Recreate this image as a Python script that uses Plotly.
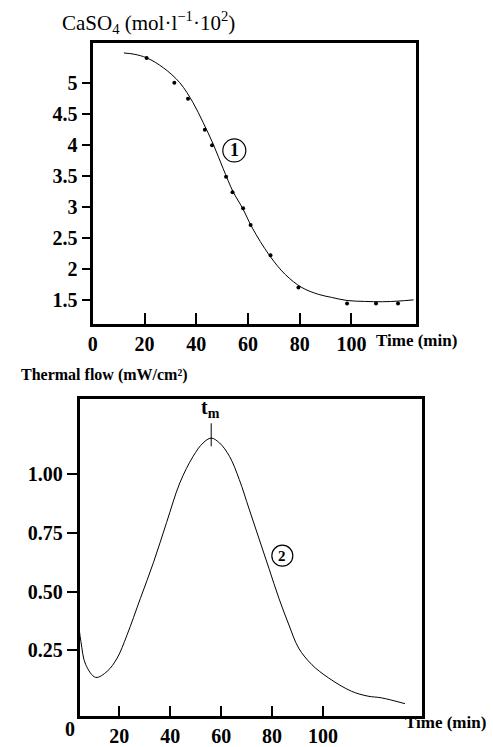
import plotly.graph_objects as go

# ---------------- data ----------------
# Curve 1: CaSO4 concentration (fitted line)
caso4_curve_t = [12.0, 16.0, 20.9, 27.3, 33.6, 38.7, 42.6, 46.5, 50.4, 54.2, 57.9, 61.7,
                 68.1, 74.4, 80.8, 87.2, 92.3, 98.3, 105.0, 112.0, 118.0, 124.0]
caso4_curve_v = [5.49, 5.47, 5.41, 5.25, 5.01, 4.69, 4.37, 4.02, 3.62, 3.25, 2.98, 2.66,
                 2.23, 1.91, 1.70, 1.59, 1.54, 1.49, 1.475, 1.47, 1.48, 1.50]
# Curve 1: measured points
caso4_pts_t = [20.8, 31.5, 36.8, 43.3, 46.1, 51.5, 54.0, 58.1, 61.0, 68.7, 79.5, 98.3, 109.5, 118.0]
caso4_pts_v = [5.41, 5.01, 4.75, 4.25, 4.00, 3.49, 3.24, 2.98, 2.71, 2.22, 1.70, 1.44, 1.44, 1.44]

# Curve 2: thermal flow
flow_t = [3.7, 5.0, 6.9, 10.8, 15.3, 19.2, 23.1, 28.3, 33.5, 38.6, 43.8, 49.0, 52.9, 56.1,
          59.4, 63.3, 67.1, 71.0, 74.9, 78.8, 82.7, 86.6, 90.4, 95.6, 102.1, 111.1, 117.6,
          122.8, 132.1]
flow_v = [0.40, 0.288, 0.189, 0.135, 0.161, 0.217, 0.316, 0.471, 0.626, 0.795, 0.964, 1.077,
          1.134, 1.155, 1.134, 1.077, 0.979, 0.852, 0.725, 0.598, 0.471, 0.358, 0.26, 0.189,
          0.133, 0.076, 0.055, 0.048, 0.023]

top_x_ticks = [0, 20, 40, 60, 80, 100]
top_y_ticks = [1.5, 2, 2.5, 3, 3.5, 4, 4.5, 5]
top_y_labels = ["1.5", "2", "2.5", "3", "3.5", "4", "4.5", "5"]
bot_x_ticks = [20, 40, 60, 80, 100]
bot_y_ticks = [0.25, 0.50, 0.75, 1.00]
bot_y_labels = ["0.25", "0.50", "0.75", "1.00"]

W, H = 493, 747
FONT = "Liberation Serif, Times New Roman, serif"

fig = go.Figure()

fig.add_trace(go.Scatter(x=caso4_curve_t, y=caso4_curve_v, mode="lines",
                         line=dict(color="black", width=1, shape="spline"),
                         xaxis="x", yaxis="y", showlegend=False))
fig.add_trace(go.Scatter(x=caso4_pts_t, y=caso4_pts_v, mode="markers",
                         marker=dict(color="black", size=4),
                         xaxis="x", yaxis="y", showlegend=False))
fig.add_trace(go.Scatter(x=flow_t, y=flow_v, mode="lines",
                         line=dict(color="black", width=1, shape="spline"),
                         xaxis="x2", yaxis="y2", showlegend=False))

tickfont = dict(family=FONT, size=20, color="black", weight="bold")
common = dict(showline=True, linecolor="black", linewidth=3, mirror=True,
              showgrid=False, zeroline=False, tickcolor="black", tickwidth=1.5,
              tickfont=tickfont)

fig.update_layout(
    width=W, height=H,
    margin=dict(l=0, r=0, t=0, b=0),
    paper_bgcolor="white", plot_bgcolor="white",
    xaxis=dict(domain=[88.5 / W, 415.5 / W], range=[-0.1, 125.07],
               tickvals=top_x_ticks, ticktext=[str(v) for v in top_x_ticks],
               ticks="inside", ticklen=11, anchor="y", **common),
    yaxis=dict(domain=[1 - 326.5 / H, 1 - 43.5 / H], range=[1.112, 5.649],
               tickvals=top_y_ticks, ticktext=top_y_labels,
               ticks="outside", ticklen=8, anchor="x", **common),
    xaxis2=dict(domain=[75.5 / W, 420.8 / W], range=[4.54, 138.6],
                tickvals=bot_x_ticks, ticktext=[str(v) for v in bot_x_ticks],
                ticks="inside", ticklen=10, anchor="y2", **common),
    yaxis2=dict(domain=[1 - 722.2 / H, 1 - 402.5 / H], range=[-0.0313, 1.3205],
                tickvals=bot_y_ticks, ticktext=bot_y_labels,
                ticks="outside", ticklen=10, anchor="x2", **common),
)

def pann(text, px, py, size, bold=False, **kw):
    fig.add_annotation(text=text, x=px / W, y=1 - py / H, xref="paper", yref="paper",
                       showarrow=False, xanchor="center", yanchor="middle",
                       font=dict(family=FONT, size=size, color="black",
                                 weight="bold" if bold else "normal"), **kw)

pann("CaSO<sub>4</sub> (mol·l<sup>−1</sup>·10<sup>2</sup>)", 145, 23, 21)
pann("Time (min)", 416, 343, 17, bold=True)
pann("Thermal flow (mW/cm²)", 101, 378, 16, bold=True)
pann("Time (min)", 445, 728, 17, bold=True)
pann("0", 66, 735, 20, bold=True)

# circled curve numbers
fig.add_shape(type="circle", xref="x", yref="y", xsizemode="pixel", ysizemode="pixel",
              xanchor=54.7, yanchor=3.915, x0=-11.5, x1=11.5, y0=-11.5, y1=11.5,
              line=dict(color="black", width=1.2))
fig.add_annotation(text="1", x=54.7, y=3.915, xref="x", yref="y", showarrow=False,
                   font=dict(family=FONT, size=18, color="black", weight="bold"))
fig.add_shape(type="circle", xref="x2", yref="y2", xsizemode="pixel", ysizemode="pixel",
              xanchor=84.0, yanchor=0.654, x0=-10.5, x1=10.5, y0=-10.5, y1=10.5,
              line=dict(color="black", width=1.2))
fig.add_annotation(text="2", x=84.0, y=0.654, xref="x2", yref="y2", showarrow=False,
                   font=dict(family=FONT, size=15, color="black", weight="bold"))

# t_m marker at the peak of the thermal flow curve
i_max = max(range(len(flow_v)), key=lambda i: flow_v[i])
tm, vm = flow_t[i_max], flow_v[i_max]
fig.add_shape(type="line", xref="x2", yref="y2", x0=tm, x1=tm, y0=vm - 0.035, y1=vm + 0.063,
              line=dict(color="black", width=1))
fig.add_annotation(text="t<sub>m</sub>", x=tm, y=vm + 0.063, xref="x2", yref="y2",
                   showarrow=False, yanchor="bottom", xshift=-1,
                   font=dict(family=FONT, size=20, color="black", weight="bold"))

fig.write_html("out.html", config={"displayModeBar": False},
               post_script="document.body.style.margin='0';")
